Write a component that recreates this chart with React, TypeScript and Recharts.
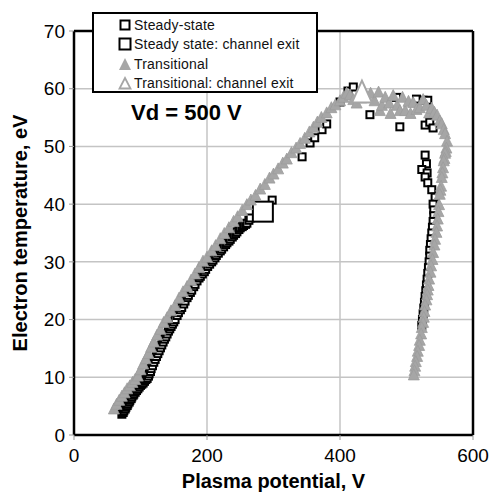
import React from "react";
import {
  ScatterChart,
  Scatter,
  XAxis,
  YAxis,
  CartesianGrid,
  ReferenceLine,
  Legend,
} from "recharts";

// plasma potential (V) / electron temperature (eV)
const steadyV = [
  72, 74, 75, 77, 78, 80, 81, 83, 84, 86, 87, 89, 90, 92, 94, 96, 98, 100, 102,
  104, 106, 108, 110, 112, 113, 115, 116, 118, 120, 122, 124, 126, 128, 130,
  132, 134, 136, 138, 140, 142, 144, 146, 148, 150, 152, 155, 157, 160, 162,
  165, 167, 170, 172, 175, 177, 180, 182, 185, 188, 190, 193, 196, 198, 201,
  204, 207, 209, 212, 214, 217, 220, 222, 225, 228, 230, 233, 235, 238, 240,
  243, 245, 248, 250, 253, 255, 258, 260, 263, 265, 298, 343, 355, 362, 373,
  380, 400, 412, 420, 445, 485, 490, 515, 525, 532, 528, 535, 540, 528, 530,
  523, 531, 528, 532, 538, 543, 540, 541, 541, 540, 539, 538, 537, 536, 535,
  535, 534, 533, 532, 531, 530, 529, 528, 527, 526, 525, 524, 523,
];
const steadyTe = [
  3.6, 3.9, 4.2, 4.5, 4.8, 5.1, 5.4, 5.7, 6.0, 6.3, 6.6, 6.9, 7.1, 7.4, 7.7,
  8.0, 8.3, 8.6, 8.8, 9.0, 9.3, 9.6, 9.8, 10.2, 10.6, 11.0, 11.5, 12.0, 12.6,
  13.1, 13.6, 14.1, 14.6, 15.1, 15.6, 16.1, 16.6, 17.0, 17.5, 18.0, 18.4, 18.8,
  19.2, 19.6, 20.0, 20.7, 21.2, 21.7, 22.1, 22.7, 23.2, 23.8, 24.2, 24.7, 25.1,
  25.7, 26.1, 26.7, 27.2, 27.5, 27.9, 28.3, 28.7, 29.2, 29.6, 30.0, 30.3, 30.7,
  31.1, 31.5, 31.9, 32.2, 32.6, 33.0, 33.3, 33.6, 33.9, 34.3, 34.6, 34.9, 35.2,
  35.6, 35.9, 36.1, 36.3, 36.5, 36.7, 37.2, 37.6, 40.7, 48.2, 50.6, 51.5, 52.9,
  53.9, 57.7, 59.6, 60.3, 55.5, 58.5, 53.4, 58.2, 58.0, 58.0, 53.7, 54.2, 53.2,
  48.5, 47.0, 46.0, 45.4, 44.7, 43.7, 42.5, 41.2, 40.0, 39.0, 38.0, 37.0, 36.0,
  35.0, 34.0, 33.0, 32.0, 31.0, 30.0, 29.0, 28.0, 27.0, 26.0, 25.0, 24.0, 23.0,
  22.0, 21.0, 20.0, 19.0, 18.0,
];

const steadyExitV = [284];
const steadyExitTe = [38.7];

const transV = [
  60, 64, 68, 72, 76, 80, 84, 88, 92, 96, 100, 104, 108, 112, 116, 120, 125,
  130, 135, 140, 146, 152, 158, 164, 170, 176, 182, 188, 194, 200, 207, 213,
  220, 226, 233, 240, 246, 253, 260, 266, 273, 280, 287, 294, 300, 307, 314,
  320, 327, 334, 340, 347, 354, 360, 366, 372, 380, 387, 393, 400, 405, 410,
  415, 420, 425, 432, 440, 446, 452, 458, 460, 463, 468, 474, 476, 480, 486,
  490, 494, 498, 503, 506, 510, 515, 520, 525, 530, 534, 538, 542, 546, 550,
  553, 556, 558, 561, 560, 559, 558, 557, 556, 555, 554, 553, 552, 551, 550,
  549, 548, 547, 546, 545, 543, 542, 540, 539, 537, 536, 534, 533, 532, 531,
  530, 528, 527, 526, 525, 523, 522, 520, 519, 517, 516, 514, 513, 512, 511,
];
const transTe = [
  4.6, 5.4, 6.1, 6.8, 7.4, 8.1, 8.6, 9.2, 9.7, 10.3, 11.4, 12.4, 13.3, 14.2,
  15.3, 16.2, 17.4, 18.4, 19.6, 20.4, 21.6, 22.5, 23.8, 24.9, 25.8, 26.9, 28.0,
  29.1, 30.2, 30.9, 32.0, 32.9, 34.1, 35.0, 36.0, 37.1, 37.9, 39.0, 40.0, 40.8,
  41.6, 42.7, 43.5, 44.6, 45.3, 46.2, 47.2, 47.9, 49.0, 49.8, 50.6, 51.5, 52.6,
  53.4, 54.3, 55.1, 55.9, 56.8, 57.3, 58.0, 58.6, 59.3, 59.0, 58.2, 57.6, 58.5,
  58.8, 59.3, 58.0, 59.5, 56.3, 57.2, 58.6, 57.6, 55.8, 58.9, 57.2, 56.3, 58.6,
  56.3, 57.9, 55.8, 57.7, 56.5, 56.8, 58.2, 57.2, 55.9, 56.7, 56.0, 55.5, 54.5,
  54.0, 53.0, 52.3, 51.0, 49.8, 49.2, 48.9, 48.0, 47.6, 46.4, 45.5, 44.7, 43.2,
  42.5, 41.8, 40.0, 38.8, 37.5, 36.3, 35.2, 34.0, 33.0, 31.7, 30.5, 29.4, 28.3,
  27.1, 26.0, 25.2, 24.4, 23.5, 22.6, 21.5, 20.5, 19.6, 18.7, 17.6, 16.5, 15.6,
  14.6, 13.7, 12.8, 12.0, 11.2, 10.5, 10.0,
];

const transExitV = [433];
const transExitTe = [59.5];

const xTicks = [0, 200, 400, 600];
const yTicks = [0, 10, 20, 30, 40, 50, 60, 70];

const FONT = "'Liberation Sans', Arial, sans-serif";
const GRAY = "#a6a6a6";

const toPoints = (xs: number[], ys: number[]) =>
  xs.map((v, i) => ({ v, te: ys[i] }));

function SmallSquare({ cx, cy }: any) {
  return (
    <rect x={cx - 3.5} y={cy - 3.5} width={7} height={7} fill="#fff" stroke="#000" strokeWidth={2} />
  );
}

function BigSquare({ cx, cy }: any) {
  return (
    <rect x={cx - 10} y={cy - 10} width={20} height={20} fill="#fff" stroke="#000" strokeWidth={2} />
  );
}

function SmallTriangle({ cx, cy }: any) {
  const w = 11;
  const h = 11;
  return (
    <polygon
      points={`${cx},${cy - h / 2} ${cx + w / 2},${cy + h / 2} ${cx - w / 2},${cy + h / 2}`}
      fill={GRAY}
      stroke="#9c9c9c"
      strokeWidth={0.8}
    />
  );
}

function BigTriangle({ cx, cy }: any) {
  const w = 20;
  const h = 22;
  return (
    <polygon
      points={`${cx},${cy - h / 2} ${cx + w / 2},${cy + h / 2} ${cx - w / 2},${cy + h / 2}`}
      fill="#fff"
      stroke={GRAY}
      strokeWidth={2}
    />
  );
}

const legendRows = [
  { label: "Steady-state", icon: "sq" },
  { label: "Steady state: channel exit", icon: "bigSq" },
  { label: "Transitional", icon: "tri" },
  { label: "Transitional: channel exit", icon: "openTri" },
];

function LegendIcon({ kind }: { kind: string }) {
  if (kind === "sq")
    return <rect x={2.5} y={2.5} width={9} height={9} fill="#fff" stroke="#000" strokeWidth={2} />;
  if (kind === "bigSq")
    return <rect x={1.5} y={1.5} width={11} height={11} fill="#fff" stroke="#000" strokeWidth={2} />;
  if (kind === "tri") return <polygon points="7,1 13,13 1,13" fill={GRAY} />;
  return <polygon points="7,2 12.5,12.5 1.5,12.5" fill="#fff" stroke={GRAY} strokeWidth={1.8} />;
}

function LegendBox() {
  return (
    <div
      style={{
        boxSizing: "border-box",
        width: 226,
        height: 81,
        border: "2px solid #000",
        background: "#fff",
        fontFamily: FONT,
        fontSize: 14,
        color: "#111",
        paddingTop: 1,
      }}
    >
      {legendRows.map((r) => (
        <div key={r.label} style={{ display: "flex", alignItems: "center", height: 19.5, paddingLeft: 24 }}>
          <svg width={14} height={14} style={{ marginRight: 2 }}>
            <LegendIcon kind={r.icon} />
          </svg>
          <span style={{ whiteSpace: "nowrap", letterSpacing: 0.2 }}>{r.label}</span>
        </div>
      ))}
    </div>
  );
}

export default function App() {
  return (
    <div style={{ position: "absolute", left: 0, top: 0, width: 493, height: 493, background: "#fff" }}>
      <ScatterChart
        width={493}
        height={493}
        margin={{ top: 31, right: 20, left: 8, bottom: 0 }}
        style={{ fontFamily: FONT }}
      >
        <CartesianGrid stroke="#c4c4c4" strokeWidth={1.5} />
        <XAxis
          type="number"
          dataKey="v"
          domain={[0, 600]}
          ticks={xTicks}
          height={58}
          tickSize={5}
          tickMargin={9}
          tick={{ fontSize: 19, fill: "#000" }}
          tickLine={{ stroke: "#999" }}
          axisLine={{ stroke: "#000", strokeWidth: 2.5 }}
          label={{
            value: "Plasma potential, V",
            position: "insideBottom",
            offset: 5,
            style: { fontSize: 20, fontWeight: "bold", fill: "#000" },
          }}
        />
        <YAxis
          type="number"
          dataKey="te"
          domain={[0, 70]}
          ticks={yTicks}
          width={66}
          tickSize={5}
          tickMargin={4}
          tick={{ fontSize: 19, fill: "#000" }}
          tickLine={{ stroke: "#999" }}
          axisLine={{ stroke: "#000", strokeWidth: 2.5 }}
          label={{
            value: "Electron temperature, eV",
            angle: -90,
            position: "insideLeft",
            offset: 12,
            style: { fontSize: 20, fontWeight: "bold", fill: "#000", textAnchor: "middle" },
          }}
        />
        <ReferenceLine x={600} stroke="#000" strokeWidth={2.5} />
        <ReferenceLine y={70} stroke="#000" strokeWidth={2.5} />
        <Legend
          layout="horizontal"
          verticalAlign="middle"
          align="center"
          wrapperStyle={{ position: "absolute", left: 92, top: 12, width: 226, height: 81 }}
          content={() => <LegendBox />}
        />
        <Scatter
          name="Steady-state"
          data={toPoints(steadyV, steadyTe)}
          shape={SmallSquare}
          isAnimationActive={false}
        />
        <Scatter
          name="Steady state: channel exit"
          data={toPoints(steadyExitV, steadyExitTe)}
          shape={BigSquare}
          isAnimationActive={false}
        />
        <Scatter
          name="Transitional"
          data={toPoints(transV, transTe)}
          shape={SmallTriangle}
          isAnimationActive={false}
        />
        <Scatter
          name="Transitional: channel exit"
          data={toPoints(transExitV, transExitTe)}
          shape={BigTriangle}
          isAnimationActive={false}
        />
      </ScatterChart>
      <div
        style={{
          position: "absolute",
          left: 131,
          top: 102,
          fontFamily: FONT,
          fontSize: 22,
          fontWeight: "bold",
          lineHeight: "22px",
          whiteSpace: "nowrap",
          color: "#000",
        }}
      >
        Vd = 500 V
      </div>
    </div>
  );
}
